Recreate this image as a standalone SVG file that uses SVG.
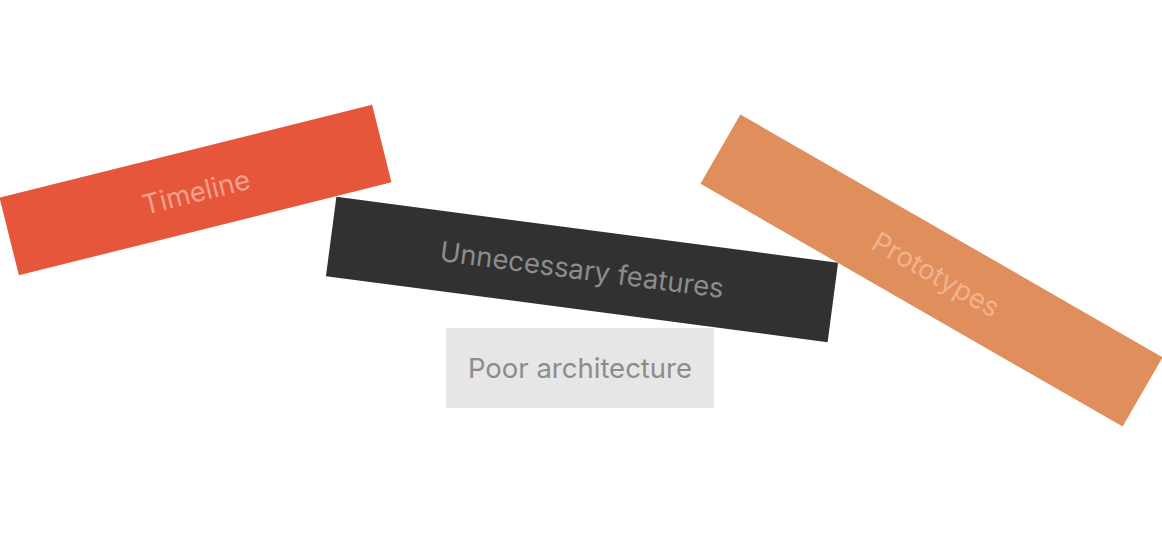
<svg xmlns="http://www.w3.org/2000/svg" width="1162" height="552" viewBox="0 0 1162 552">
<style>
text{font-family:"Inter","DejaVu Sans",sans-serif;font-size:27.5px;text-anchor:middle;dominant-baseline:central}
.t1{fill:#f3a08c}
.t2{fill:#8c8c8c}
.t3{fill:#8c8c8c}
.t4{fill:#f1b28b}
</style>
<rect width="1162" height="552" fill="#ffffff"/>
<g id="node-timeline" transform="translate(195.5,190) rotate(-14)">
<rect x="-192" y="-40" width="384" height="80" fill="#e5563b"/>
<text class="t1" x="0" y="2">Timeline</text>
</g>
<g id="node-unnecessary" transform="translate(582,269.5) rotate(7.5)">
<rect x="-253" y="-40" width="506" height="80" fill="#313131"/>
<text class="t2" x="0" y="0">Unnecessary features</text>
</g>
<g id="node-poor">
<rect x="446" y="328" width="268" height="80" fill="#e6e6e6"/>
<text class="t3" x="580" y="368">Poor architecture</text>
</g>
<g id="node-prototypes" transform="translate(931.5,270.5) rotate(29.9)">
<rect x="-243.5" y="-40" width="487" height="80" fill="#e08e5c"/>
<text class="t4" x="6" y="1">Prototypes</text>
</g>
<g id="connectors"></g>
</svg>
